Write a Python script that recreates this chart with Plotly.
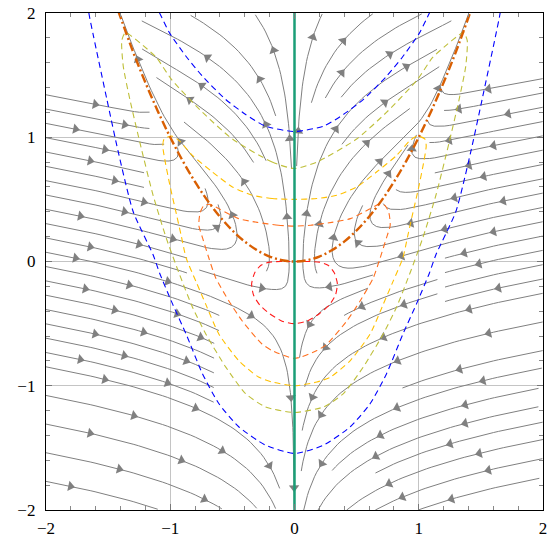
import numpy as np
import plotly.graph_objects as go
from plotly.figure_factory._streamline import _Streamline

# ---------------- data ----------------
# phase-portrait vector field:  x' = x (y - x^2),  y' = K (y + C - x^2)
FIELD_K = 0.4
FIELD_C = 0.25
grid_x = np.linspace(-2, 2, 121)
grid_y = np.linspace(-2, 2, 121)

# dash-dot curve (left half; mirrored)
curve_x_left = [-1.42, -1.3, -1.2, -1.1, -1.0, -0.9, -0.8, -0.7, -0.6, -0.5, -0.4, -0.3, -0.2, -0.1, 0.0]
curve_y_left = [2.02, 1.69, 1.44, 1.21, 1.0, 0.81, 0.64, 0.49, 0.36, 0.25, 0.16, 0.09, 0.04, 0.01, 0.0]

# level curves, left half, from x=0 (top) round to x=0 (bottom)
red_x = [0.0, -0.1, -0.2, -0.27, -0.32, -0.345, -0.33, -0.28, -0.2, -0.1, 0.0]
red_y = [0.0, 0.0, -0.005, -0.03, -0.09, -0.18, -0.27, -0.35, -0.42, -0.48, -0.5]

orange_x = [0.0, -0.13, -0.3, -0.45, -0.6, -0.68, -0.73, -0.76, -0.77, -0.74, -0.69, -0.634, -0.528, -0.422, -0.262, -0.18, 0.0]
orange_y = [0.285, 0.292, 0.315, 0.345, 0.42, 0.46, 0.45, 0.39, 0.29, 0.19, 0.03, -0.132, -0.318, -0.477, -0.664, -0.717, -0.78]

gold_x = [0.0, -0.18, -0.34, -0.5, -0.66, -0.82, -0.93, -0.99, -1.05, -1.06, -1.04, -1.0, -0.95, -0.91, -0.872, -0.794, -0.714, -0.608, -0.449, -0.29, -0.18, 0.0]
gold_y = [0.5, 0.507, 0.533, 0.6, 0.72, 0.852, 0.975, 1.01, 0.985, 0.93, 0.8, 0.6, 0.38, 0.2, 0.028, -0.158, -0.345, -0.585, -0.797, -0.93, -0.97, -1.0]

olive_x = [0.0, -0.18, -0.5, -0.74, -0.99, -1.11, -1.22, -1.32, -1.36, -1.39, -1.378, -1.325, -1.245, -1.138, -1.032, -0.925, -0.82, -0.713, -0.553, -0.394, -0.235, 0.0]
olive_y = [0.748, 0.80, 0.986, 1.2, 1.465, 1.64, 1.74, 1.82, 1.845, 1.78, 1.57, 1.305, 0.96, 0.533, 0.188, -0.105, -0.37, -0.585, -0.85, -1.063, -1.17, -1.215]

blue_up_x = [0.0, -0.236, -0.396, -0.555, -0.74, -0.872, -1.006, -1.086, -1.13]
blue_up_y = [1.046, 1.09, 1.185, 1.305, 1.49, 1.65, 1.84, 2.0, 2.08]
blue_low_x = [-1.66, -1.655, -1.617, -1.51, -1.418, -1.298, -1.138, -1.086, -0.98, -0.872, -0.74, -0.608, -0.449, -0.234, 0.0]
blue_low_y = [2.08, 2.0, 1.81, 1.305, 0.88, 0.40, 0.054, -0.092, -0.345, -0.585, -0.905, -1.145, -1.33, -1.478, -1.545]

tick_vals = [-2, -1, 0, 1, 2]
tick_text = ["\u22122", "\u22121", "0", "1", "2"]

# ---------------- helpers ----------------
def closed_sym(xl, yl):
    xs = list(xl) + [-v for v in reversed(xl)][1:]
    ys = list(yl) + list(reversed(yl))[1:]
    return xs, ys

def open_sym_top(xl, yl):
    xs = [-v for v in reversed(xl)] + list(xl)[1:]
    ys = list(reversed(yl)) + list(yl)[1:]
    return xs, ys

def open_sym_end(xl, yl):
    xs = list(xl) + [-v for v in reversed(xl)][1:]
    ys = list(yl) + list(reversed(yl))[1:]
    return xs, ys

# ---------------- field & streamlines ----------------
GX, GY = np.meshgrid(grid_x, grid_y)
U = GX * (GY - GX ** 2)
V = FIELD_K * (GY + FIELD_C - GX ** 2)

sl = _Streamline(grid_x, grid_y, U, V, density=1.2, angle=np.pi / 9, arrow_scale=0.05)

ARROW_GAP = 0.75
lx, ly = [], []
ax_, ay_, ang = [], [], []
for k, (sx, sy) in enumerate(zip(sl.st_x, sl.st_y)):
    sx = np.asarray(sx, dtype=float); sy = np.asarray(sy, dtype=float)
    m = np.isfinite(sx) & np.isfinite(sy)
    sx = sx[m]; sy = sy[m]
    if len(sx) < 4:
        continue
    lx += sx.tolist() + [None]
    ly += sy.tolist() + [None]
    seg = np.hypot(np.diff(sx), np.diff(sy))
    cum = np.concatenate([[0], np.cumsum(seg)])
    total = cum[-1]
    if total < ARROW_GAP:
        spots = [total / 2]
    else:
        ph = 0.2 + ((k * 0.618) % 1.0) * (ARROW_GAP * 0.8)
        spots = list(np.arange(ph, total - 0.12, ARROW_GAP))
    for s in spots:
        i = int(np.searchsorted(cum, s))
        i = min(max(i, 1), len(sx) - 2)
        dx = sx[i + 1] - sx[i - 1]
        dy = sy[i + 1] - sy[i - 1]
        if dx == 0 and dy == 0:
            continue
        ax_.append(float(sx[i])); ay_.append(float(sy[i]))
        ang.append(float(np.degrees(np.arctan2(dx, dy))))

fig = go.Figure()
fig.add_trace(go.Scatter(x=lx, y=ly, mode="lines", line=dict(color="#808080", width=1.0),
                         hoverinfo="skip"))
fig.add_trace(go.Scatter(x=ax_, y=ay_, mode="markers",
                         marker=dict(symbol="triangle-up", size=9, color="#808080", angle=ang,
                                     line=dict(width=0)), hoverinfo="skip"))

dash = "6px,4px"
for (xl, yl, col) in [(red_x, red_y, "#ff1a1a"), (orange_x, orange_y, "#ff7020"),
                      (gold_x, gold_y, "#ffc000"), (olive_x, olive_y, "#bfbf3a")]:
    xs, ys = closed_sym(xl, yl)
    fig.add_trace(go.Scatter(x=xs, y=ys, mode="lines",
                             line=dict(color=col, width=1.1, dash=dash, shape="spline", smoothing=0.6),
                             hoverinfo="skip"))
xs, ys = open_sym_top(blue_up_x, blue_up_y)
fig.add_trace(go.Scatter(x=xs, y=ys, mode="lines",
                         line=dict(color="#0000ff", width=1.1, dash=dash, shape="spline", smoothing=0.6)))
xs, ys = open_sym_end(blue_low_x, blue_low_y)
fig.add_trace(go.Scatter(x=xs, y=ys, mode="lines",
                         line=dict(color="#0000ff", width=1.1, dash=dash, shape="spline", smoothing=0.6)))

xs, ys = open_sym_end(curve_x_left, curve_y_left)
fig.add_trace(go.Scatter(x=xs, y=ys, mode="lines",
                         line=dict(color="#d95f02", width=2.4, dash="9px,3px,2px,3px", shape="spline")))

fig.add_trace(go.Scatter(x=[0, 0], y=[-2, 2], mode="lines", line=dict(color="#1b9e77", width=2.5)))

axis = dict(range=[-2, 2], tickvals=tick_vals, ticktext=tick_text, showgrid=True,
            gridcolor="#c4c4c4", gridwidth=1, zeroline=False, showline=True, linecolor="black",
            linewidth=1.3, mirror="ticks", ticks="inside", ticklen=6, tickcolor="#777",
            ticklabeloverflow="allow",
            minor=dict(dtick=0.2, tick0=0, ticks="inside", ticklen=4, tickcolor="#888", showgrid=False),
            tickfont=dict(family="Liberation Serif", size=17, color="black"))
fig.update_layout(width=550, height=541, margin=dict(l=46, r=3, t=13, b=27),
                  plot_bgcolor="white", paper_bgcolor="white", showlegend=False,
                  xaxis=dict(axis, ticklabelstandoff=2),
                  yaxis=dict(axis, ticklabelstandoff=6))
fig.write_html("out.html")
